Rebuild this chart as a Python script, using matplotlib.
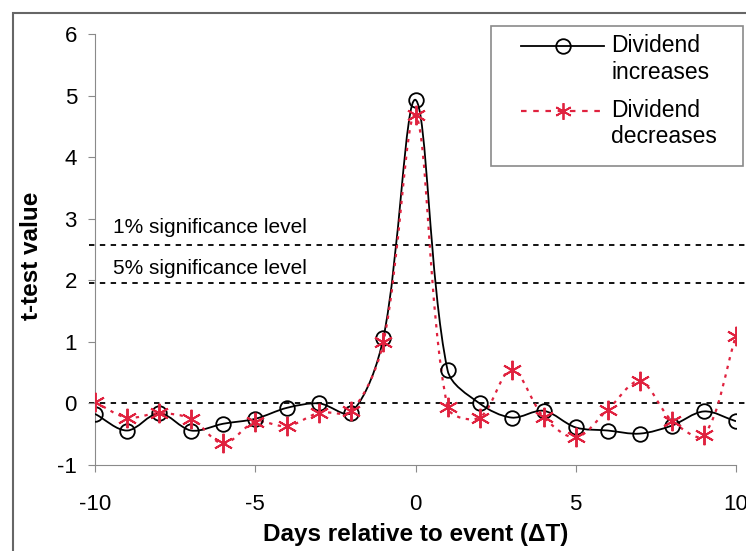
import matplotlib.pyplot as plt
import numpy as np
from matplotlib.legend_handler import HandlerLine2D
from matplotlib.lines import Line2D
from matplotlib.patches import PathPatch, Rectangle
from matplotlib.path import Path

plt.rcParams['font.family'] = ['Liberation Sans', 'DejaVu Sans']
plt.rcParams['axes.unicode_minus'] = False

days = np.arange(-10, 11)
t_increases = [-0.17, -0.44, -0.16, -0.44, -0.33, -0.25, -0.07, 0.0, -0.15, 1.07, 4.93,
               0.54, 0.0, -0.23, -0.12, -0.39, -0.44, -0.49, -0.36, -0.13, -0.29]
t_decreases = [0.02, -0.23, -0.16, -0.25, -0.65, -0.30, -0.37, -0.15, -0.12, 1.0, 4.68,
               -0.06, -0.23, 0.55, -0.22, -0.55, -0.10, 0.36, -0.28, -0.52, 1.10]
levels = [0.0, 1.96, 2.58]

GREY = '#8a8a8a'
RED = '#e0223f'


def smooth_path(ax, x, y):
    # smoothed line as cubic Bezier segments; tangent length weighted by
    # on-screen segment lengths so steep drops don't overshoot
    p = np.column_stack([x, y]).astype(float)
    s = ax.transData.transform(p)
    ext = np.vstack([p[0], p, p[-1]])
    sext = np.vstack([s[0], s, s[-1]])
    seg = np.linalg.norm(np.diff(sext, axis=0), axis=1)
    verts = [p[0]]
    codes = [Path.MOVETO]
    for i in range(len(p) - 1):
        a, b, c, d = ext[i], ext[i + 1], ext[i + 2], ext[i + 3]
        d_ab, d_bc, d_cd = seg[i], seg[i + 1], seg[i + 2]
        w1 = d_bc / (d_ab + d_bc) / 3
        w2 = d_bc / (d_bc + d_cd) / 3
        verts += [b + (c - a) * w1, c - (d - b) * w2, c]
        codes += [Path.CURVE4] * 3
    return Path(verts, codes)


class FirstLineHandler(HandlerLine2D):
    # put the handle level with the first line of a two-line label, inset from the frame
    def create_artists(self, legend, orig_handle, xdescent, ydescent, width, height,
                       fontsize, trans):
        inset = 0.95 * fontsize
        artists = super().create_artists(legend, orig_handle, xdescent - inset, ydescent,
                                          width - inset, height, fontsize, trans)
        for a in artists:
            a.set_ydata(np.asarray(a.get_ydata()) + 0.6 * fontsize)
        return artists


fig = plt.figure(figsize=(7.46, 5.51), dpi=100)
ax = fig.add_axes([95 / 746, 1 - 465 / 551, (736 - 95) / 746, (465 - 34) / 551])
ax.set_xlim(-10, 10)
ax.set_ylim(-1, 6)

for lv in levels:
    ax.axhline(lv, xmin=-0.01, xmax=1.1, color='black', lw=1.3, ls=(0, (3, 3)),
               clip_on=False, zorder=1)

ax.text(-9.45, 2.58 + 0.12, '1% significance level', fontsize=15, va='bottom')
ax.text(-9.45, 1.96 + 0.07, '5% significance level', fontsize=15, va='bottom')

ax.add_patch(PathPatch(smooth_path(ax, days, t_increases), fc='none', ec='black', lw=1.3,
                       zorder=3))
ax.plot(days, t_increases, ls='none', marker='o', ms=10.5, mfc='none', mec='black',
        mew=1.3, zorder=4)

ax.add_patch(PathPatch(smooth_path(ax, days, t_decreases), fc='none', ec=RED, lw=1.6,
                       ls=(0, (1.5, 2.5)), zorder=3))
ax.plot(days, t_decreases, ls='none', marker=(6, 2, 0), ms=14, mec=RED, mew=1.4, zorder=5)

ax.set_xticks([-10, -5, 0, 5, 10])
ax.set_yticks(range(-1, 7))
ax.tick_params(labelsize=16, length=5, color=GREY)
ax.tick_params(axis='x', pad=16)
ax.tick_params(axis='y', pad=8)
for side in ['top', 'right']:
    ax.spines[side].set_visible(False)
for side in ['left', 'bottom']:
    ax.spines[side].set_color(GREY)

ax.set_xlabel('Days relative to event (\u0394T)', fontsize=17.5, fontweight='bold', labelpad=6)
ax.set_ylabel('t-test value', fontsize=17.5, fontweight='bold')
ax.yaxis.set_label_coords(-0.081, 0.485)

handles = [
    Line2D([], [], color='black', lw=1.3, marker='o', ms=10.5, mfc='none', mew=1.3),
    Line2D([], [], color=RED, lw=1.6, ls=(0, (2.5, 3)), marker=(6, 2, 0), ms=12, mew=1.3),
]
ax.legend(handles, ['Dividend\nincreases', 'Dividend\ndecreases'], fontsize=16.5,
          loc='upper left', bbox_to_anchor=(491 / 746, 1 - 26 / 551),
          bbox_transform=fig.transFigure, borderaxespad=0, frameon=False,
          handlelength=4.6, handletextpad=0.3, borderpad=0.35, labelspacing=0.65,
          handler_map={Line2D: FirstLineHandler()})
# legend frame
fig.patches.append(Rectangle((491 / 746, 1 - 166 / 551), 252 / 746, 140 / 551,
                             transform=fig.transFigure, fill=False, ec=GREY, lw=1.2,
                             zorder=10))

# outer chart border (only top and left edges fall inside the image)
fig.patches.append(Rectangle((13 / 746, -0.1), 1.2, 1.1 - 13 / 551, transform=fig.transFigure,
                             fill=False, ec='#666666', lw=1.5))

fig.savefig('out.png', dpi=100)
